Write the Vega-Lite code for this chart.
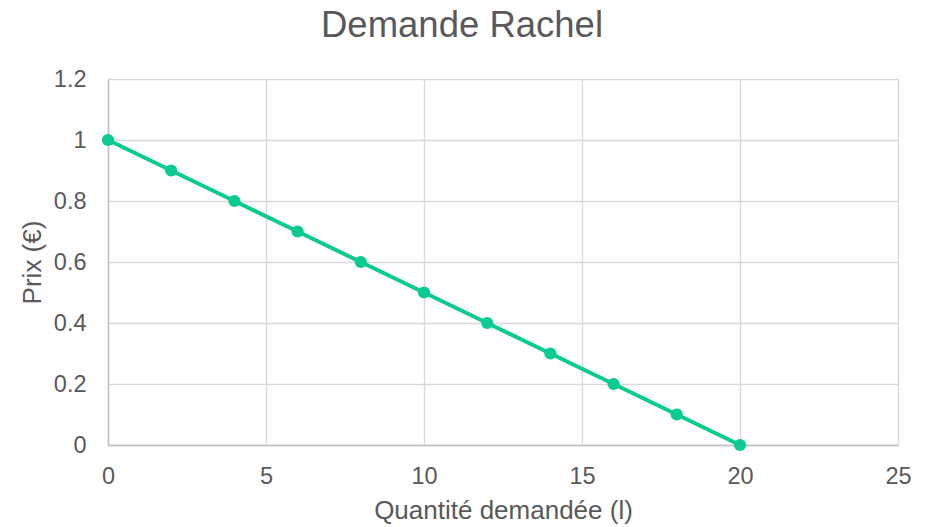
{
  "$schema": "https://vega.github.io/schema/vega-lite/v6.json",
  "autosize": {"type": "none"},
  "padding": {"left": 108, "top": 79, "right": 29, "bottom": 82},
  "width": 790,
  "height": 366,
  "background": "white",
  "title": {
    "text": "Demande Rachel",
    "fontSize": 36.5,
    "font": "Liberation Sans",
    "fontWeight": "normal",
    "color": "#595959",
    "anchor": "middle",
    "dx": -41,
    "offset": 23
  },
  "config": {
    "view": {"stroke": null},
    "axis": {
      "labelFont": "Liberation Sans",
      "titleFont": "Liberation Sans",
      "labelColor": "#595959",
      "titleColor": "#595959",
      "labelFontSize": 23.5,
      "titleFontSize": 26,
      "titleFontWeight": "normal",
      "gridColor": "#d9d9d9",
      "gridWidth": 1.3,
      "domainColor": "#bfbfbf",
      "domainWidth": 1.5,
      "ticks": false
    }
  },
  "data": {
    "values": [
      {"q": 0, "p": 1.0},
      {"q": 2, "p": 0.9},
      {"q": 4, "p": 0.8},
      {"q": 6, "p": 0.7},
      {"q": 8, "p": 0.6},
      {"q": 10, "p": 0.5},
      {"q": 12, "p": 0.4},
      {"q": 14, "p": 0.3},
      {"q": 16, "p": 0.2},
      {"q": 18, "p": 0.1},
      {"q": 20, "p": 0.0}
    ]
  },
  "encoding": {
    "x": {
      "field": "q",
      "type": "quantitative",
      "title": "Quantité demandée (l)",
      "scale": {"domain": [0, 25], "nice": false},
      "axis": {"values": [0, 5, 10, 15, 20, 25], "labelPadding": 19, "titlePadding": 10, "format": "d", "labelFlush": false}
    },
    "y": {
      "field": "p",
      "type": "quantitative",
      "title": "Prix (€)",
      "scale": {"domain": [0, 1.2], "nice": false},
      "axis": {"values": [0, 0.2, 0.4, 0.6, 0.8, 1, 1.2], "labelPadding": 22, "titlePadding": 8, "format": "~g", "labelFlush": false}
    }
  },
  "layer": [
    {"mark": {"type": "line", "color": "#0bcb93", "strokeWidth": 4}},
    {"mark": {"type": "point", "filled": true, "opacity": 1, "color": "#0bcb93", "size": 150}}
  ]
}
